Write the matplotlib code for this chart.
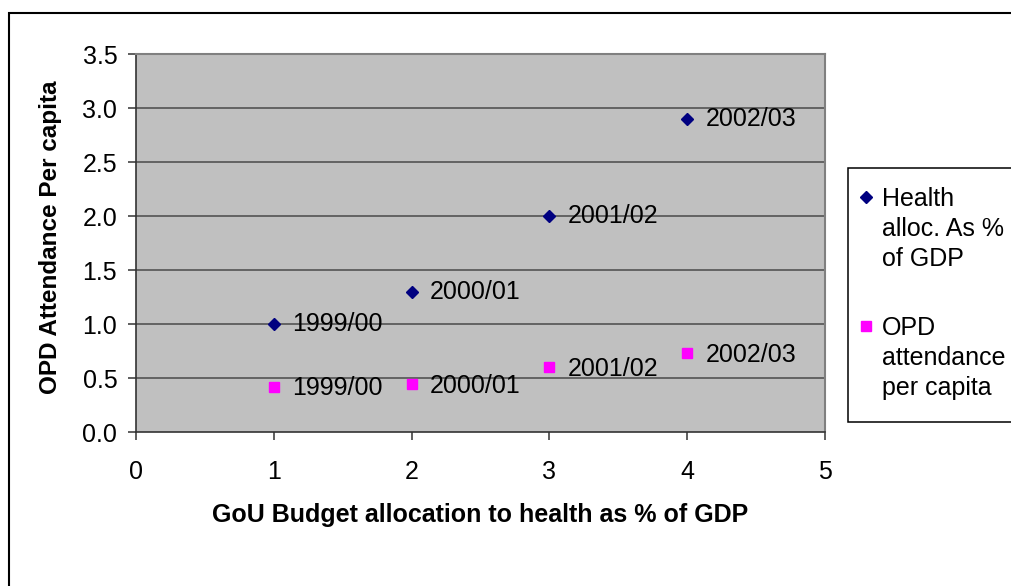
import matplotlib
matplotlib.use("Agg")
import matplotlib.pyplot as plt
from matplotlib.lines import Line2D
from matplotlib.patches import Rectangle

plt.rcParams['font.family'] = ['Liberation Sans', 'DejaVu Sans']

# Data
years = ["1999/00", "2000/01", "2001/02", "2002/03"]
x_pos = [1, 2, 3, 4]
health_alloc = [1.0, 1.3, 2.0, 2.9]
opd_attendance = [0.42, 0.44, 0.60, 0.73]
x_ticks = [0, 1, 2, 3, 4, 5]
y_ticks = [0.0, 0.5, 1.0, 1.5, 2.0, 2.5, 3.0, 3.5]
series_names = [["Health", "alloc. As %", "of GDP"],
                ["OPD", "attendance", "per capita"]]

NAVY = "#000080"
MAGENTA = "#FF00FF"
FS = 18

W, H = 1012, 586
fig = plt.figure(figsize=(W / 100, H / 100), dpi=100)
fig.patch.set_facecolor("white")

def fx(px):
    return px / W

def fy(py):
    return 1 - py / H

# Outer chart frame (extends beyond the right and bottom edges)
fig.add_artist(Rectangle((fx(9.5), fy(700)), fx(1200), fy(13) - fy(700),
                         transform=fig.transFigure, fill=False,
                         edgecolor="black", linewidth=1.5))

AX_L, AX_R, AX_T, AX_B = 136, 825, 54, 432
ax = fig.add_axes([fx(AX_L), fy(AX_B), fx(AX_R) - fx(AX_L), fy(AX_T) - fy(AX_B)])
ax.set_facecolor("#C0C0C0")
ax.set_xlim(0, 5)
ax.set_ylim(0, 3.5)
ax.set_xticks(x_ticks)
ax.set_yticks(y_ticks)
ax.set_yticklabels([f"{v:.1f}" for v in y_ticks])
ax.set_xticklabels([str(v) for v in x_ticks])

for yv in y_ticks[1:-1]:
    ax.axhline(yv, color="#4a4a4a", linewidth=1.1, zorder=1)

for side in ["top", "right"]:
    ax.spines[side].set_color("#808080")
    ax.spines[side].set_linewidth(1.5)
for side in ["left", "bottom"]:
    ax.spines[side].set_color("#333333")
    ax.spines[side].set_linewidth(1.2)

ax.tick_params(axis="both", direction="out", length=6, width=1.1,
               color="#333333", labelsize=FS)
ax.tick_params(axis="y", pad=7.5)
ax.tick_params(axis="x", pad=14)

ax.plot(x_pos, health_alloc, linestyle="none", marker="D", markersize=6.5,
        color=NAVY, zorder=3, clip_on=False)
ax.plot(x_pos, opd_attendance, linestyle="none", marker="s", markersize=7.5,
        color=MAGENTA, zorder=3, clip_on=False)

for xv, yv, lab in zip(x_pos, health_alloc, years):
    ax.annotate(lab, (xv, yv), xytext=(13, 0), textcoords="offset points",
                va="center", ha="left", fontsize=FS, zorder=4)
for xv, yv, lab in zip(x_pos, opd_attendance, years):
    ax.annotate(lab, (xv, yv), xytext=(13, -1), textcoords="offset points",
                va="center", ha="left", fontsize=FS, zorder=4)

ax.set_xlabel("GoU Budget allocation to health as % of GDP",
              fontsize=FS, fontweight="bold", labelpad=14)
ax.set_ylabel("OPD Attendance Per capita", fontsize=17.5, fontweight="bold")
ax.yaxis.set_label_coords((62 - AX_L) / (AX_R - AX_L),
                          (AX_B - 237) / (AX_B - AX_T))

# Legend box
fig.add_artist(Rectangle((fx(848), fy(422)), fx(300), fy(168) - fy(422),
                         transform=fig.transFigure, fill=True,
                         facecolor="white", edgecolor="black", linewidth=1.1))
legend_rows = [(197, "D", 6.5, NAVY, series_names[0]),
               (326, "s", 7.5, MAGENTA, series_names[1])]
for py, mk, ms, col, lines in legend_rows:
    fig.add_artist(Line2D([fx(866)], [fy(py)], marker=mk, markersize=ms,
                          color=col, linestyle="none",
                          transform=fig.transFigure))
    for i, line in enumerate(lines):
        fig.text(fx(882), fy(py + 9 + 30 * i), line, fontsize=FS,
                 ha="left", va="baseline", transform=fig.transFigure)

fig.savefig("out.png", dpi=100)
